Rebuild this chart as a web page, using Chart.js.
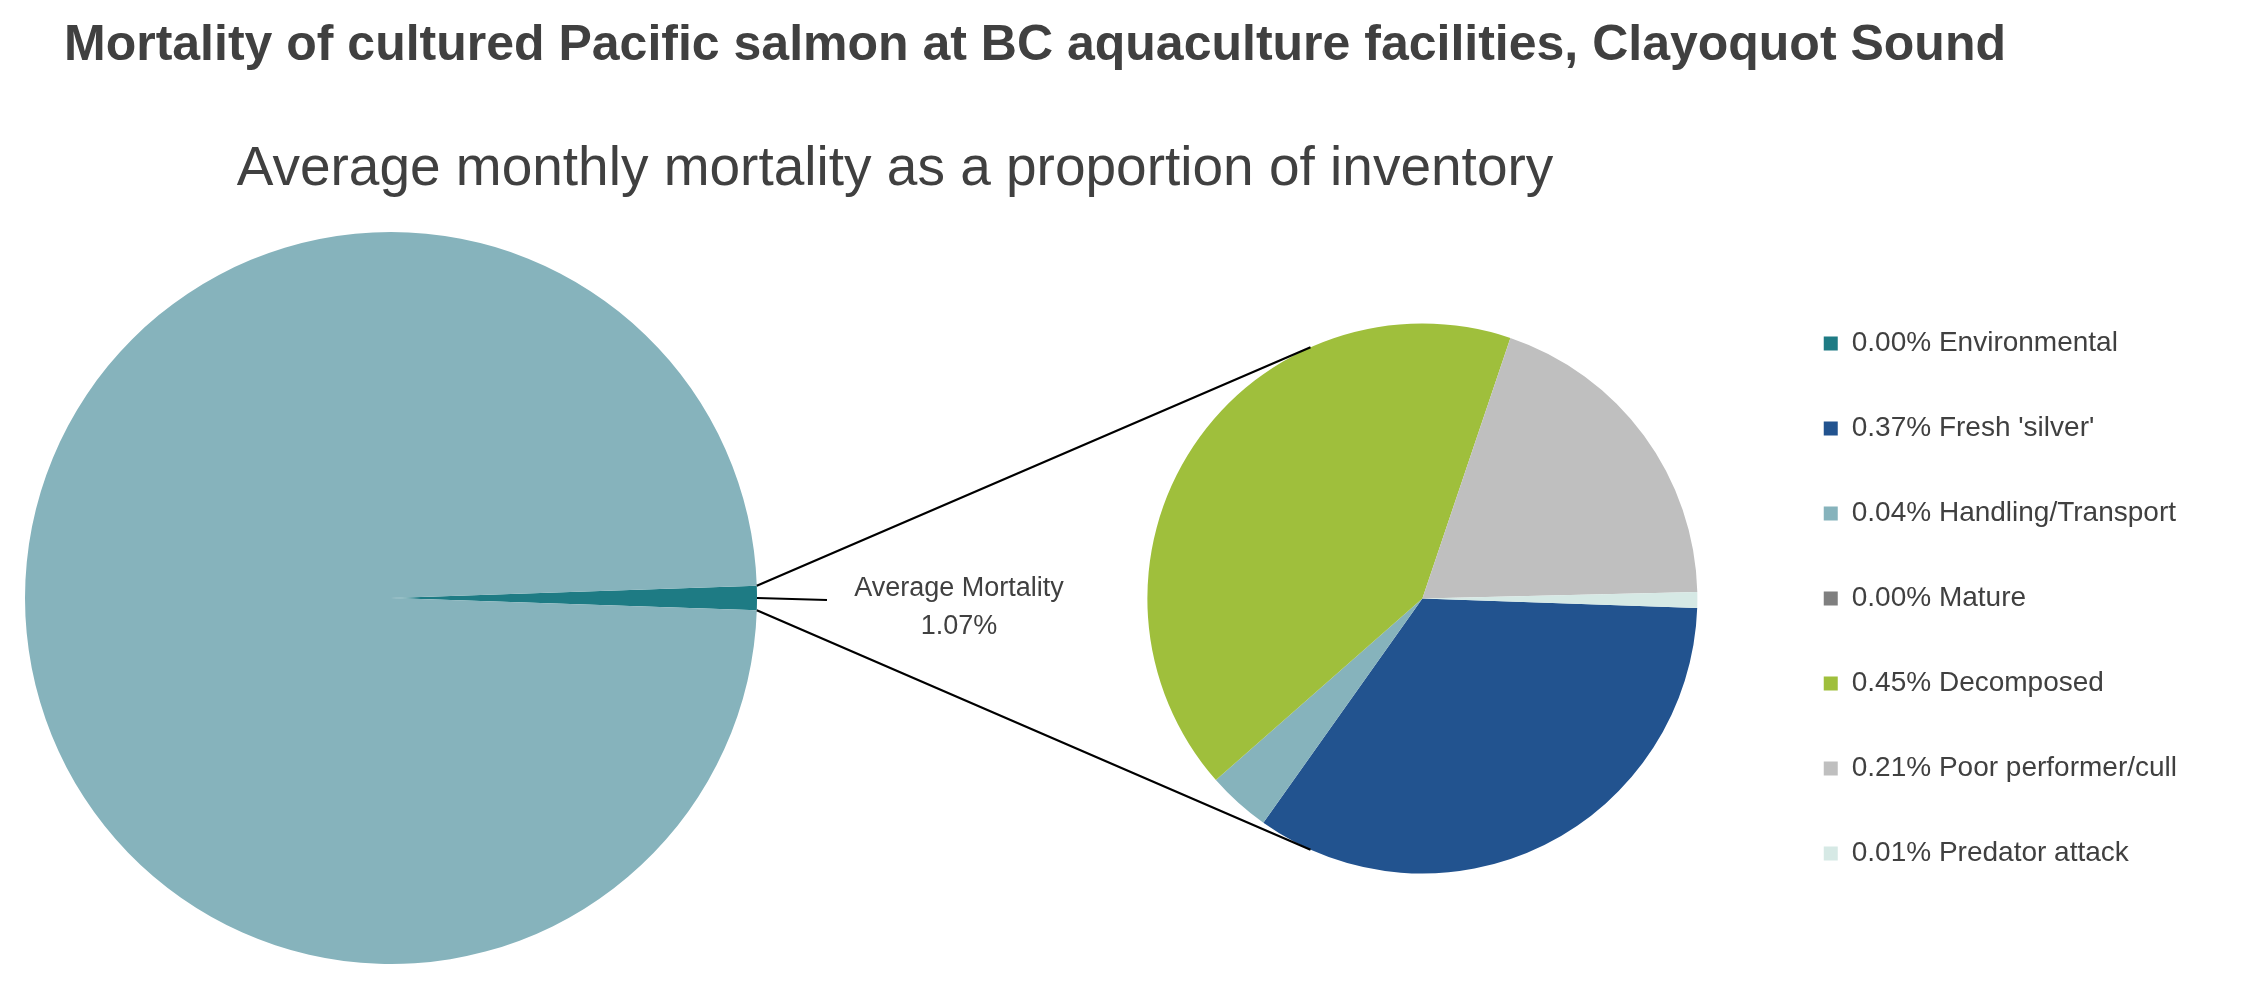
<!DOCTYPE html>
<html><head><meta charset="utf-8">
<script src="https://cdn.jsdelivr.net/npm/chart.js@4.4.0/dist/chart.umd.min.js"></script>
<style>
html,body{margin:0;padding:0;background:#fff;width:2244px;height:991px;overflow:hidden;font-family:"Liberation Sans",Arial,sans-serif;color:#404040}
.abs{position:absolute}
#t1{left:64px;top:14px;font-size:50px;font-weight:bold;white-space:nowrap}
#t2{left:0;width:1790px;top:134px;font-size:55px;text-align:center;white-space:nowrap}
#lab{left:809px;width:300px;top:568px;font-size:27px;text-align:center;line-height:38px;white-space:nowrap}
</style></head><body>
<div id="t1" class="abs">Mortality of cultured Pacific salmon at BC aquaculture facilities, Clayoquot Sound</div>
<div id="t2" class="abs">Average monthly mortality as a proportion of inventory</div>
<div class="abs" style="left:0;top:232px;width:782px;height:732px"><canvas id="a"></canvas></div>
<div class="abs" style="left:1078px;top:103px;width:1166px;height:991px"><canvas id="b"></canvas></div>
<canvas id="ov" class="abs" width="2244" height="991" style="left:0;top:0;pointer-events:none"></canvas>
<div id="lab" class="abs">Average Mortality<br>1.07%</div>
<script>
const mainLabels = ["Average Mortality", "Survival"];
const mainValues = [1.07, 98.93];
const mainColors = ["#1E7B84", "#86B3BC"];
const causeLabels = ["Environmental", "Fresh 'silver'", "Handling/Transport", "Mature", "Decomposed", "Poor performer/cull", "Predator attack"];
const causeValues = [0.00, 0.37, 0.04, 0.00, 0.45, 0.21, 0.01];
const causeColors = ["#1E7B84", "#22538F", "#86B3BC", "#7F7F7F", "#9FBF3C", "#BFBFBF", "#D6E9E5"];

const half = mainValues[0] / mainValues.reduce((a,b)=>a+b,0) * 360 / 2;
const ca = new Chart(document.getElementById('a'), {
  type: 'pie',
  data: {labels: mainLabels, datasets: [{data: mainValues, backgroundColor: mainColors, borderWidth: 0}]},
  options: {responsive: true, maintainAspectRatio: false, animation: false, rotation: 90 - half,
    plugins: {legend: {display: false}, tooltip: {enabled: false}}, layout: {padding: 0}}
});
const cb = new Chart(document.getElementById('b'), {
  type: 'pie',
  data: {labels: causeLabels, datasets: [{data: causeValues, backgroundColor: causeColors, borderWidth: 0, radius: 275}]},
  options: {responsive: true, maintainAspectRatio: false, animation: false, rotation: 92,
    layout: {padding: {top: 0, bottom: 0, left: 0, right: 57}},
    plugins: {tooltip: {enabled: false},
      legend: {position: 'right', labels: {
        font: {family: "Liberation Sans, Arial", size: 28}, color: '#404040', boxWidth: 14, boxHeight: 14, padding: 57,
        generateLabels: (ch) => ch.data.labels.map((l, i) => ({
          text: ch.data.datasets[0].data[i].toFixed(2) + '% ' + l,
          fillStyle: causeColors[i], strokeStyle: causeColors[i], lineWidth: 0, hidden: false, index: i, fontColor: '#404040'}))
      }}}}
});
const ov = document.getElementById('ov').getContext('2d');
const ea = ca.getDatasetMeta(0).data[0], eb = cb.getDatasetMeta(0).data[0];
const ax = 0 + ea.x, ay = 232 + ea.y, ar = ea.outerRadius;
const bx = 1078 + eb.x, by = 103 + eb.y, br = eb.outerRadius;
const h = half * Math.PI / 180, g = 66 * Math.PI / 180;
ov.strokeStyle = '#000'; ov.lineWidth = 2.2;
ov.beginPath();
ov.moveTo(ax + ar*Math.cos(h), ay - ar*Math.sin(h)); ov.lineTo(bx - br*Math.cos(g), by - br*Math.sin(g));
ov.moveTo(ax + ar*Math.cos(h), ay + ar*Math.sin(h)); ov.lineTo(bx - br*Math.cos(g), by + br*Math.sin(g));
ov.moveTo(ax + ar, ay); ov.lineTo(ax + ar + 70, ay + 2);
ov.stroke();
</script>
</body></html>
